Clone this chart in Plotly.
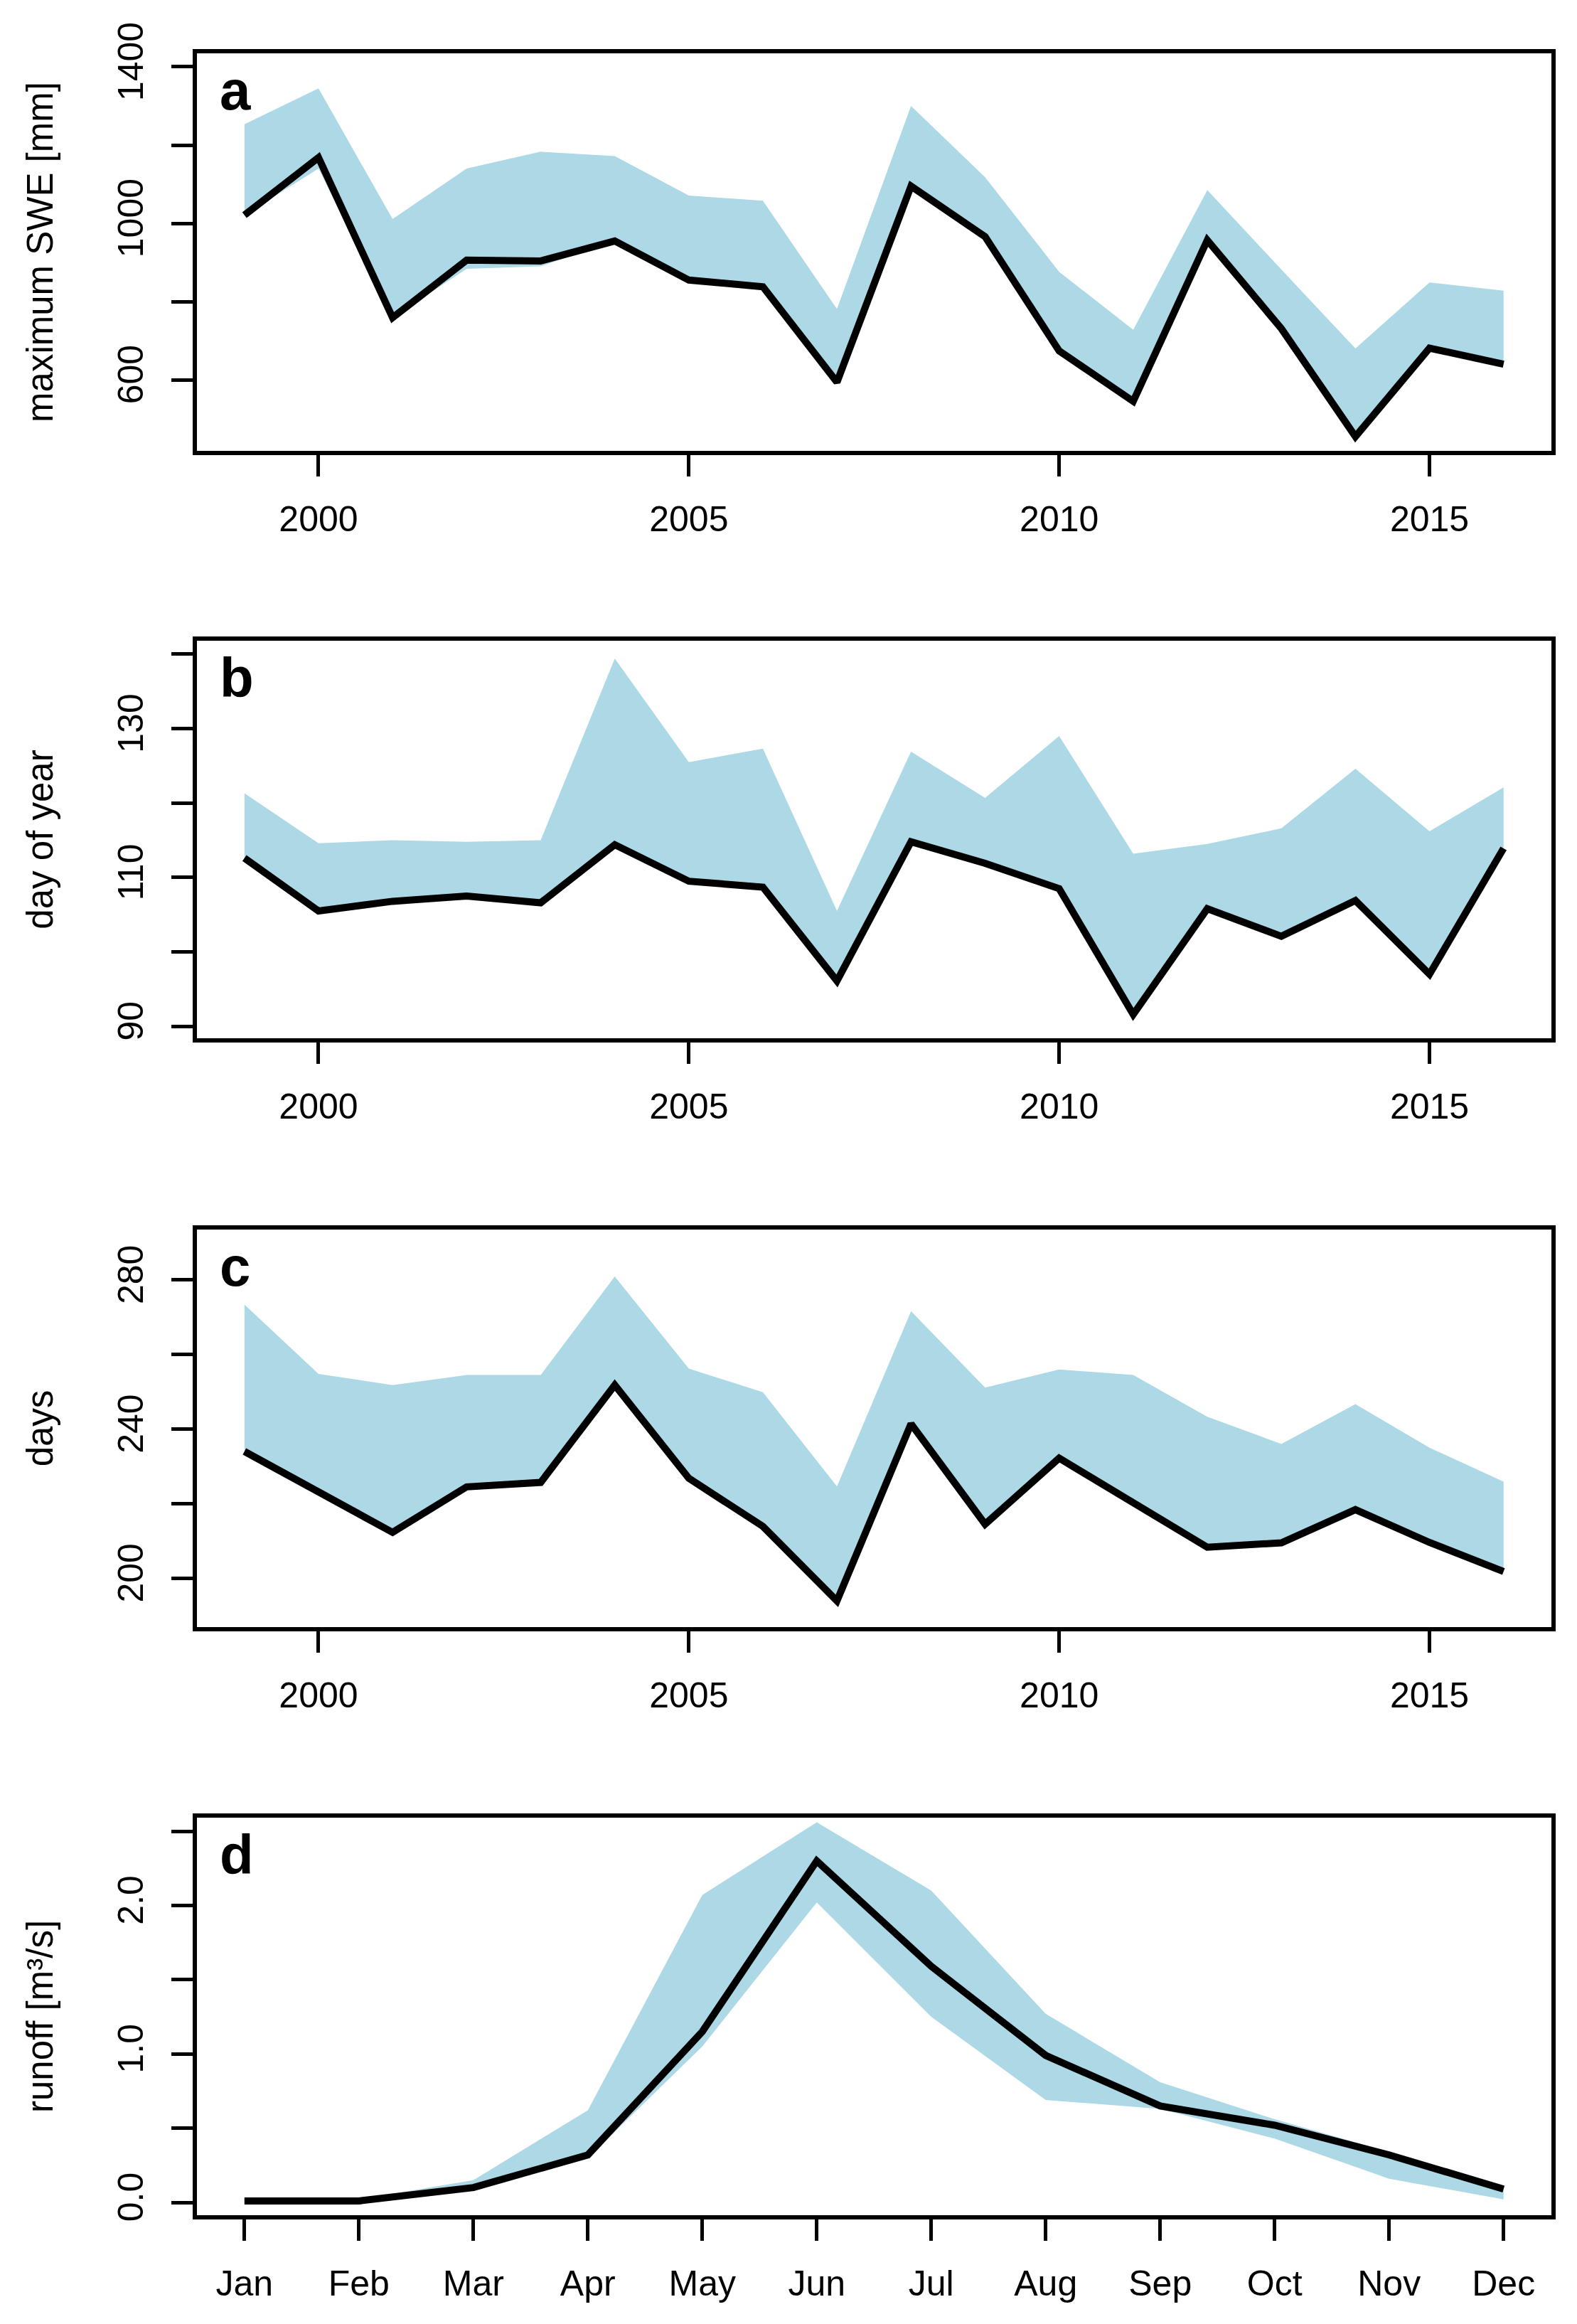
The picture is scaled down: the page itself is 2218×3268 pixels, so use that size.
import plotly.graph_objects as go

# ---------------- data ----------------
years = list(range(1999, 2017))

swe_line = [1021, 1168, 759, 906, 904, 955, 855, 838, 594, 1095, 966, 674, 545, 957, 731, 455, 681, 640]
swe_upper = [1253, 1345, 1011, 1140, 1183, 1172, 1071, 1058, 781, 1300, 1118, 876, 728, 1085, 882, 680, 849, 828]
swe_lower = [1021, 1140, 759, 884, 890, 955, 855, 838, 594, 1095, 966, 674, 545, 957, 731, 455, 681, 640]

doy_line = [112.6, 105.5, 106.8, 107.5, 106.6, 114.4, 109.5, 108.7, 96.1, 114.8, 111.9, 108.5, 91.6, 105.8, 102.1, 106.9, 97.0, 113.9]
doy_upper = [121.3, 114.6, 115.0, 114.8, 115.0, 139.4, 125.5, 127.3, 105.5, 126.9, 120.7, 129.0, 113.2, 114.5, 116.6, 124.6, 116.2, 122.1]
doy_lower = doy_line

days_line = [234.0, 223.2, 212.3, 224.5, 225.7, 251.8, 226.8, 213.9, 193.9, 241.4, 214.5, 232.2, 220.2, 208.3, 209.5, 218.4, 209.6, 201.8]
days_upper = [273.4, 254.8, 251.8, 254.5, 254.5, 280.9, 256.2, 249.9, 224.6, 271.6, 251.1, 256.0, 254.5, 243.3, 236.0, 246.7, 235.0, 225.9]
days_lower = days_line

months = list(range(1, 13))
month_labels = ["Jan", "Feb", "Mar", "Apr", "May", "Jun", "Jul", "Aug", "Sep", "Oct", "Nov", "Dec"]
run_line = [0.01, 0.01, 0.10, 0.32, 1.15, 2.30, 1.59, 0.99, 0.65, 0.52, 0.32, 0.09]
run_upper = [0.02, 0.02, 0.15, 0.62, 2.07, 2.56, 2.10, 1.27, 0.81, 0.56, 0.34, 0.10]
run_lower = [0.01, 0.01, 0.09, 0.30, 1.05, 2.02, 1.25, 0.69, 0.63, 0.43, 0.16, 0.02]

year_ticks = [2000, 2005, 2010, 2015]

swe_ticks = [600, 800, 1000, 1200, 1400]
swe_ticktext = ["600", "", "1000", "", "1400"]
doy_ticks = [90, 100, 110, 120, 130, 140]
doy_ticktext = ["90", "", "110", "", "130", ""]
days_ticks = [200, 220, 240, 260, 280]
days_ticktext = ["200", "", "240", "", "280"]
run_ticks = [0, 0.5, 1.0, 1.5, 2.0, 2.5]
run_ticktext = ["0.0", "", "1.0", "", "2.0", ""]

year_range = [1998.354, 2016.646]
month_range = [0.582, 12.418]

panels = [
    dict(x=years, line=swe_line, up=swe_upper, lo=swe_lower, title="maximum SWE [mm]",
         yr=[418.5, 1434.5], yt=swe_ticks, ytt=swe_ticktext, xr=year_range,
         xt=year_ticks, xtt=[str(v) for v in year_ticks], label="a"),
    dict(x=years, line=doy_line, up=doy_upper, lo=doy_lower, title="day of year",
         yr=[88.4, 141.8], yt=doy_ticks, ytt=doy_ticktext, xr=year_range,
         xt=year_ticks, xtt=[str(v) for v in year_ticks], label="b"),
    dict(x=years, line=days_line, up=days_upper, lo=days_lower, title="days",
         yr=[186.9, 293.5], yt=days_ticks, ytt=days_ticktext, xr=year_range,
         xt=year_ticks, xtt=[str(v) for v in year_ticks], label="c"),
    dict(x=months, line=run_line, up=run_upper, lo=run_lower, title="runoff [m³/s]",
         yr=[-0.086, 2.591], yt=run_ticks, ytt=run_ticktext, xr=month_range,
         xt=months, xtt=month_labels, label="d"),
]

# the page body has an 8 px default margin: the figure is drawn 8 px smaller
# and all positions are measured from that offset
PAGE_OFF = 8
W, H = 2218 - PAGE_OFF, 3268 - PAGE_OFF
LW = 6
box_left = 273.5 + LW / 2 - PAGE_OFF
box_right = 2185 - LW / 2 - PAGE_OFF
box_tops = [72 - PAGE_OFF, 898 - PAGE_OFF, 1726 - PAGE_OFF, 2553 - PAGE_OFF]
box_h = 565

FONT = "Liberation Sans, Arial, Helvetica, sans-serif"
BAND = "#ADD8E6"

fig = go.Figure()
layout = dict(
    width=W, height=H,
    margin=dict(l=0, r=0, t=0, b=0),
    paper_bgcolor="white", plot_bgcolor="white",
    showlegend=False,
    font=dict(family=FONT, size=50, color="black"),
    annotations=[],
)

for i, p in enumerate(panels):
    n = i + 1
    xa = "x" if n == 1 else f"x{n}"
    ya = "y" if n == 1 else f"y{n}"
    fig.add_trace(go.Scatter(x=p["x"], y=p["lo"], mode="lines",
                             line=dict(width=0, color=BAND), xaxis=xa, yaxis=ya,
                             hoverinfo="skip"))
    fig.add_trace(go.Scatter(x=p["x"], y=p["up"], mode="lines", fill="tonexty",
                             fillcolor=BAND, line=dict(width=0, color=BAND),
                             xaxis=xa, yaxis=ya, hoverinfo="skip"))
    fig.add_trace(go.Scatter(x=p["x"], y=p["line"], mode="lines",
                             line=dict(width=10, color="black"),
                             xaxis=xa, yaxis=ya))

    top = box_tops[i] + LW / 2
    bottom = box_tops[i] + box_h - LW / 2
    ydom = [1 - bottom / H, 1 - top / H]
    xdom = [box_left / W, box_right / W]
    xkey = "xaxis" if n == 1 else f"xaxis{n}"
    ykey = "yaxis" if n == 1 else f"yaxis{n}"
    layout[xkey] = dict(
        domain=xdom, anchor=ya, range=p["xr"], tickmode="array",
        tickvals=p["xt"], ticktext=p["xtt"], ticks="outside", ticklen=30,
        tickwidth=4.5, tickcolor="black", showline=True, linewidth=LW,
        linecolor="black", mirror=True, showgrid=False, zeroline=False,
        tickfont=dict(size=50, family=FONT), ticklabelstandoff=17,
    )
    layout[ykey] = dict(
        domain=ydom, anchor=xa, range=p["yr"], tickmode="array",
        tickvals=p["yt"], ticktext=p["ytt"], ticks="outside", ticklen=30,
        tickwidth=4.5, tickcolor="black", showline=True, linewidth=LW,
        linecolor="black", mirror=True, showgrid=False, zeroline=False,
        tickangle=-90, tickfont=dict(size=50, family=FONT), ticklabelstandoff=20,
        title=dict(text=p["title"], font=dict(size=51, family=FONT), standoff=67),
        automargin=False,
    )
    layout["annotations"].append(dict(
        text=f"<b>{p['label']}</b>", xref=f"{xa} domain", yref=f"{ya} domain",
        x=0.016, y=0.99, xanchor="left", yanchor="top", showarrow=False,
        font=dict(size=78, family=FONT, color="black"),
    ))

fig.update_layout(**layout)
fig.write_html("out.html")
